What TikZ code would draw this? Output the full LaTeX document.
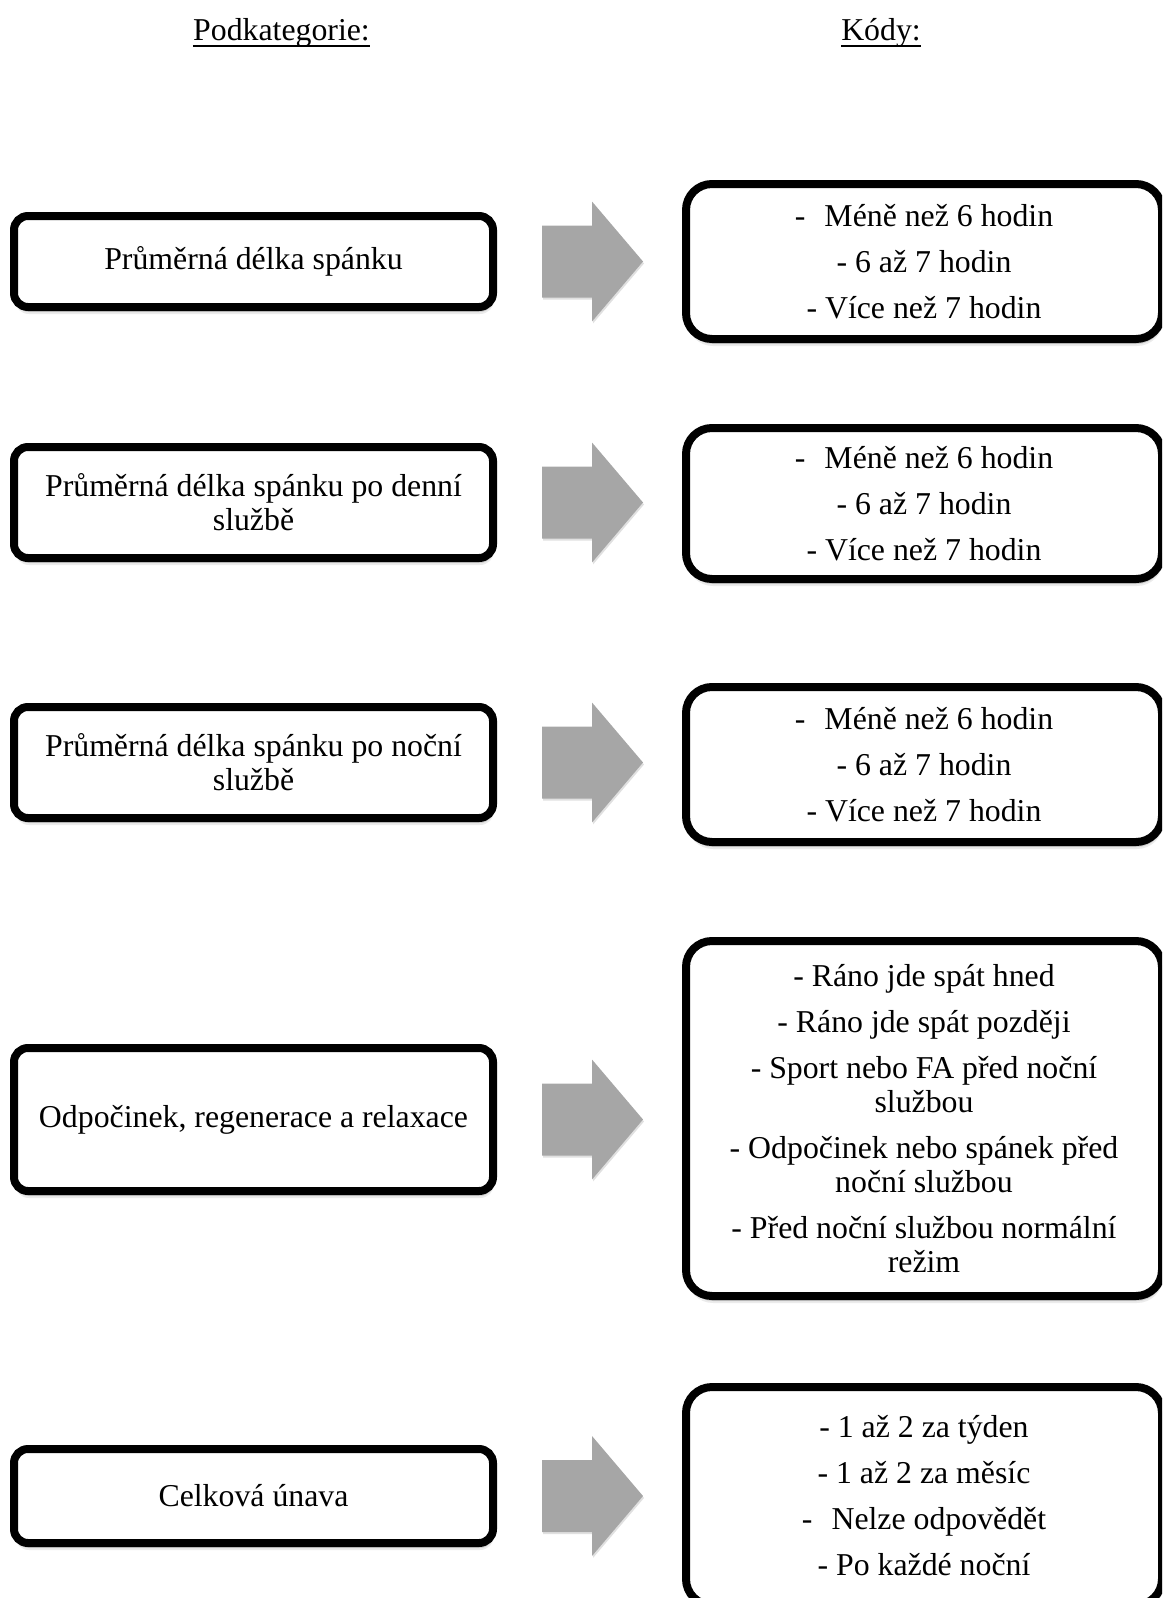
\documentclass[tikz,border=0pt]{standalone}
\usepackage{fontspec}
\setmainfont{Liberation Serif}
\usetikzlibrary{shadows,calc}
\definecolor{arrowgray}{HTML}{A6A6A6}
\tikzset{
  basetext/.style={font=\fontsize{31.8}{34}\selectfont, text=black},
  softshadow/.style={
    drop shadow={shadow xshift=1pt, shadow yshift=-7pt, opacity=0.08, fill=black},
    drop shadow={shadow xshift=1pt, shadow yshift=-5pt, opacity=0.12, fill=black}},
  catbox/.style={basetext, softshadow, draw=black, line width=8pt, rounded corners=14pt,
    fill=white, minimum width=479pt, align=center, inner sep=0pt},
  codebox/.style={basetext, softshadow, draw=black, line width=8pt, rounded corners=26pt,
    fill=white, minimum width=476pt, align=center, inner sep=0pt},
  blockarrow/.style={fill=arrowgray,
    drop shadow={shadow xshift=1pt, shadow yshift=-2pt, opacity=0.12, fill=black}},
  header/.style={basetext, inner sep=0pt, anchor=base},
  ulinestyle/.style={line width=1.8pt, draw=black},
}
\begin{document}
\begin{tikzpicture}[x=1pt,y=-1pt]
\useasboundingbox (0,0) rectangle (1162,1598);
\clip (0,0) rectangle (1162,1598);

% headers
\node[header] (hp) at (281.5,40) {Podkategorie:};
\node[header] (hk) at (881,40) {Kódy:};
\draw[ulinestyle] ([yshift=-6pt]hp.base west) -- ([yshift=-6pt]hp.base east);
\draw[ulinestyle] ([yshift=-6pt]hk.base west) -- ([yshift=-6pt]hk.base east);

% left category boxes
\node[catbox, minimum height=91pt]  (L1) at (253.5,261.5) {Průměrná délka spánku};
\node[catbox, minimum height=111pt] (L2) at (253.5,502.5) {Průměrná délka spánku po denní\\službě};
\node[catbox, minimum height=111pt] (L3) at (253.5,762.5) {Průměrná délka spánku po noční\\službě};
\node[catbox, minimum height=143pt] (L4) at (253.5,1119.5) {Odpočinek, regenerace a relaxace};
\node[catbox, minimum height=94pt]  (L5) at (253.5,1496) {Celková únava};

% right code boxes
\node[codebox, minimum height=155pt] (R1) at (924,261.5)
  {-\hspace{0.6em}Méně než 6 hodin\\[12pt]- 6 až 7 hodin\\[12pt]- Více než 7 hodin};
\node[codebox, minimum height=151pt] (R2) at (924,503.5)
  {-\hspace{0.6em}Méně než 6 hodin\\[12pt]- 6 až 7 hodin\\[12pt]- Více než 7 hodin};
\node[codebox, minimum height=155pt] (R3) at (924,764.5)
  {-\hspace{0.6em}Méně než 6 hodin\\[12pt]- 6 až 7 hodin\\[12pt]- Více než 7 hodin};
\node[codebox, minimum height=355pt] (R4) at (924,1118.5)
  {- Ráno jde spát hned\\[12pt]- Ráno jde spát později\\[12pt]- Sport nebo FA před noční\\službou\\[12pt]- Odpočinek nebo spánek před\\noční službou\\[12pt]- Před noční službou normální\\režim};
\node[codebox, minimum height=218pt] (R5) at (924,1496)
  {- 1 až 2 za týden\\[12pt]- 1 až 2 za měsíc\\[12pt]-\hspace{0.6em}Nelze odpovědět\\[12pt]- Po každé noční};

% block arrows between the boxes
\foreach \i in {1,...,5}{
  \fill[blockarrow] let \p1=(L\i.center) in
    (542pt,\y1+36pt) -- (592pt,\y1+36pt) -- (592pt,\y1+60pt) -- (643pt,\y1)
    -- (592pt,\y1-60pt) -- (592pt,\y1-36pt) -- (542pt,\y1-36pt) -- cycle;
}
\end{tikzpicture}
\end{document}
